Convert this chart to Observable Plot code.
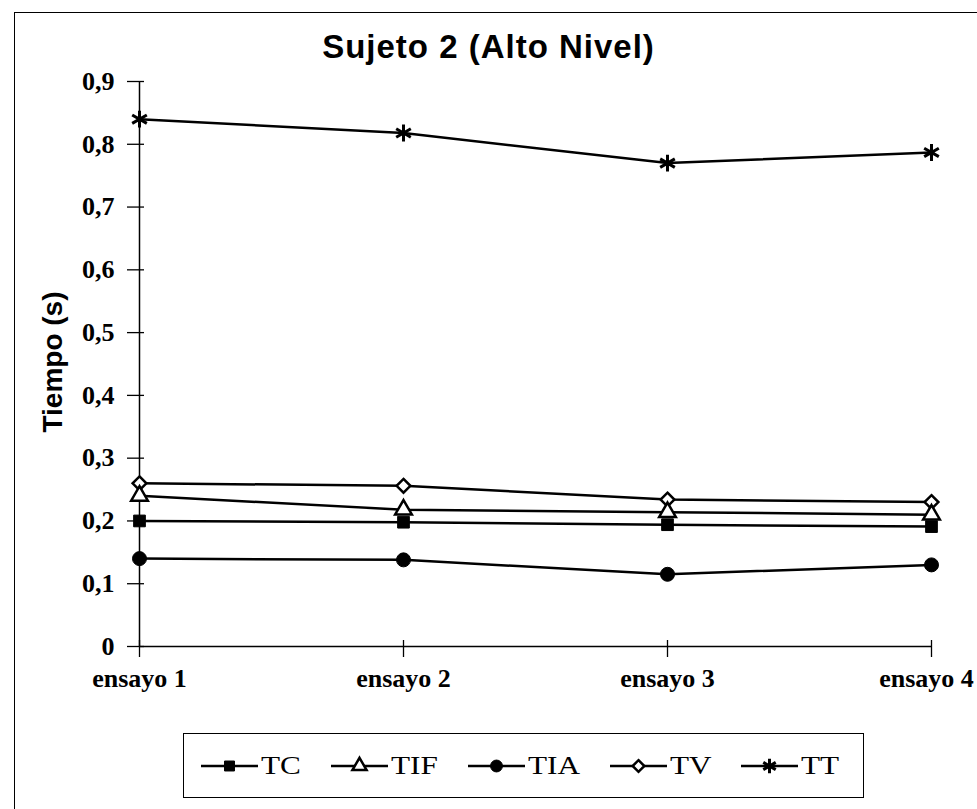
<!DOCTYPE html>
<html><head><meta charset="utf-8">
<script src="https://cdn.jsdelivr.net/npm/d3@7"></script>
<script src="https://cdn.jsdelivr.net/npm/@observablehq/plot@0.6"></script>
<style>
html,body{margin:0;padding:0;background:#fff;}
#wrap{position:relative;width:977px;height:809px;overflow:hidden;background:#fff;}
#frame{position:absolute;left:14px;top:12px;width:1000px;height:900px;border:1.5px solid #000;box-sizing:border-box;}
#title{position:absolute;left:0;width:977px;top:28px;text-align:center;font:bold 33px "Liberation Sans",Arial,sans-serif;letter-spacing:1px;line-height:38px;}
#ylabel{position:absolute;left:53px;top:362px;transform:translate(-50%,-50%) rotate(-90deg);font:bold 28px "Liberation Sans",Arial,sans-serif;white-space:nowrap;}
#chart{position:absolute;left:0;top:60px;}
#legend{position:absolute;left:183px;top:733px;width:681px;height:65px;border:1.5px solid #000;box-sizing:border-box;display:flex;align-items:center;padding-left:17px;gap:30px;}
.item{display:flex;align-items:center;}
.item svg{display:block;}
.lab{display:inline-block;margin-left:3px;}
.lab span{display:inline-block;font:26px "Liberation Serif","Times New Roman",serif;transform:scaleX(1.2);transform-origin:left center;}
</style>
</head><body>
<div id="wrap">
  <div id="frame"></div>
  <div id="title">Sujeto 2 (Alto Nivel)</div>
  <div id="ylabel">Tiempo (s)</div>
  <div id="chart"></div>
  <div id="legend"></div>
</div>
<script>
// ---- data ----
const categories = ["ensayo 1", "ensayo 2", "ensayo 3", "ensayo 4"];
const TC  = [0.200, 0.198, 0.194, 0.191];
const TIF = [0.240, 0.218, 0.214, 0.210];
const TIA = [0.140, 0.138, 0.115, 0.130];
const TV  = [0.260, 0.256, 0.234, 0.230];
const TT  = [0.840, 0.818, 0.770, 0.787];
const seriesNames = ["TC", "TIF", "TIA", "TV", "TT"];
const yTicks = [0, 0.1, 0.2, 0.3, 0.4, 0.5, 0.6, 0.7, 0.8, 0.9];
const yTickLabels = ["0", "0,1", "0,2", "0,3", "0,4", "0,5", "0,6", "0,7", "0,8", "0,9"];

// ---- styles ----
const valuesByName = {TC, TIF, TIA, TV, TT};
const styleByName = {
  TC:  {symbol: "square",   r: 6.6, fill: "black", stroke: "black", strokeWidth: 1},
  TIF: {symbol: "triangle", r: 6.2, fill: "white", stroke: "black", strokeWidth: 2.5},
  TIA: {symbol: "circle",   r: 7,   fill: "black", stroke: "black", strokeWidth: 1},
  TV:  {symbol: "diamond2", r: 6.2, fill: "white", stroke: "black", strokeWidth: 2.5},
  TT:  {symbol: "asterisk", r: 8,   fill: "none",  stroke: "black", strokeWidth: 3}
};

const rows = [];
seriesNames.forEach(name => categories.forEach((c, i) => rows.push({serie: name, x: c, y: valuesByName[name][i]})));

const drawOrder = ["TT", "TV", "TIF", "TC", "TIA"];
const seriesMarks = [];
drawOrder.forEach(name => {
  const d = rows.filter(r => r.serie === name);
  seriesMarks.push(Plot.line(d, {x: "x", y: "y", stroke: "black", strokeWidth: 2.5}));
});
drawOrder.forEach(name => {
  const d = rows.filter(r => r.serie === name);
  const st = styleByName[name];
  seriesMarks.push(Plot.dot(d, {x: "x", y: "y", symbol: () => st.symbol, r: st.r, fill: st.fill, stroke: st.stroke, strokeWidth: st.strokeWidth}));
});

const xFont = {fontSize: 26, fontWeight: "bold", fontFamily: "Liberation Serif, Times New Roman, serif", label: null};
const chart = Plot.plot({
  width: 977, height: 670,
  marginLeft: 139, marginRight: 46, marginTop: 21, marginBottom: 84,
  x: {type: "point", domain: categories, padding: 0},
  y: {domain: [0, 0.9]},
  symbol: {type: "identity"},
  style: {background: "transparent", overflow: "visible"},
  marks: [
    Plot.ruleY([0], {stroke: "black", strokeWidth: 1.5}),
    Plot.ruleX(categories.slice(0, 1), {y1: 0, y2: 0.9, stroke: "black", strokeWidth: 1.5}),
    Plot.axisY({ticks: yTicks, tickFormat: d => yTickLabels[yTicks.indexOf(d)], tickSize: 17, dx: 5, tickPadding: 13,
      fontSize: 26, fontWeight: "bold", fontFamily: "Liberation Serif, Times New Roman, serif", strokeWidth: 1.3, label: null}),
    Plot.axisX({ticks: categories, tickSize: 17, dy: -6, tickFormat: () => "", strokeWidth: 1.3, label: null}),
    Plot.axisX({ticks: categories.slice(0, 3), tickSize: 0, dy: -6, tickPadding: 28, ...xFont}),
    Plot.axisX({ticks: categories.slice(3), tickSize: 0, dy: -6, dx: -5, tickPadding: 28, ...xFont}),
    ...seriesMarks
  ]
});
document.getElementById("chart").appendChild(chart);

// ---- legend ----
const legend = document.getElementById("legend");
seriesNames.forEach(name => {
  const st = styleByName[name];
  const item = document.createElement("div");
  item.className = "item";
  const svg = d3.create("svg").attr("width", 57).attr("height", 24);
  svg.append("line").attr("x1", 0).attr("x2", 57).attr("y1", 12).attr("y2", 12).attr("stroke", "black").attr("stroke-width", 2.5);
  const symType = {square: d3.symbolSquare, triangle: d3.symbolTriangle, circle: d3.symbolCircle, diamond2: d3.symbolDiamond2, asterisk: d3.symbolAsterisk}[st.symbol];
  const rr = st.r * 0.85;
  svg.append("path").attr("transform", "translate(28.5,12)")
    .attr("d", d3.symbol(symType, rr * rr * Math.PI)())
    .attr("fill", st.fill).attr("stroke", st.stroke).attr("stroke-width", st.strokeWidth);
  item.appendChild(svg.node());
  const lab = document.createElement("span");
  lab.className = "lab";
  const sp = document.createElement("span");
  sp.textContent = name;
  lab.appendChild(sp);
  item.appendChild(lab);
  legend.appendChild(item);
  lab.style.width = (sp.getBoundingClientRect().width) + "px";
});
</script>
</body></html>
